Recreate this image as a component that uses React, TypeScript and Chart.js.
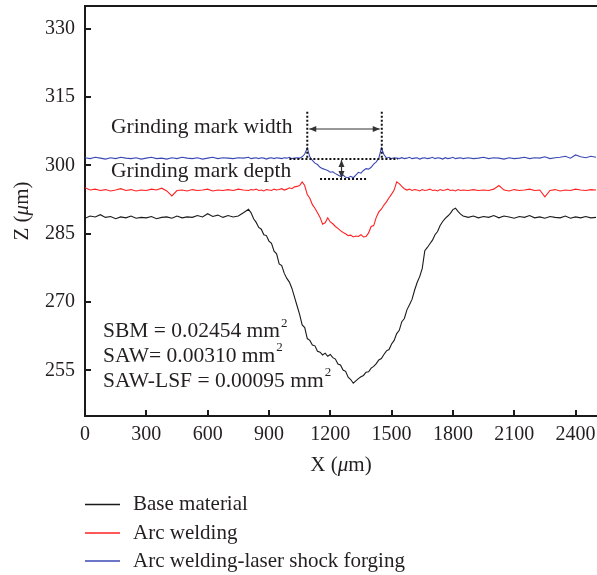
import React, { useEffect, useRef } from 'react';
import { Chart, registerables } from 'chart.js';

Chart.register(...registerables);

// X positions (µm) at which the profiles were read (finer inside the grinding marks)
const X_UM = [
  0, 25, 50, 75, 100, 125, 150, 175, 200, 225,
  250, 275, 300, 325, 350, 375, 400, 425, 450, 475,
  500, 525, 550, 575, 600, 625, 650, 675, 700, 725,
  750, 775,
  800, 812.5, 825, 837.5, 850, 862.5, 875, 887.5, 900, 912.5,
  925, 937.5, 950, 962.5, 975, 987.5, 1000, 1012.5, 1025, 1037.5,
  1050, 1062.5, 1075, 1087.5, 1100, 1112.5, 1125, 1137.5, 1150, 1162.5,
  1175, 1187.5, 1200, 1212.5, 1225, 1237.5, 1250, 1262.5, 1275, 1287.5,
  1300, 1312.5, 1325, 1337.5, 1350, 1362.5, 1375, 1387.5, 1400, 1412.5,
  1425, 1437.5, 1450, 1462.5, 1475, 1487.5, 1500, 1512.5, 1525, 1537.5,
  1550, 1562.5, 1575, 1587.5, 1600, 1612.5, 1625, 1637.5, 1650, 1662.5,
  1675, 1687.5, 1700, 1712.5, 1725, 1737.5, 1750, 1762.5, 1775, 1787.5,
  1800, 1812.5, 1825, 1837.5, 1850,
  1875, 1900, 1925, 1950, 1975, 2000, 2025, 2050, 2075, 2100,
  2125, 2150, 2175, 2200, 2225, 2250, 2275, 2300, 2325, 2350,
  2375, 2400, 2425, 2450, 2475, 2500,
];

// Z (µm) – Base material
const BASE_MATERIAL = [
  288.4, 288.9, 288.7, 289.2, 288.6, 288.8, 288.3, 288.7, 288.5, 288.9,
  288.4, 288.6, 288.5, 288.8, 288.3, 288.6, 288.7, 288.4, 288.9, 288.5,
  288.7, 288.6, 289.0, 288.7, 289.4, 288.8, 289.1, 288.6, 289.0, 288.7,
  288.9, 289.6,
  290.4, 289.6, 288.3, 287.5, 286.4, 286.0, 284.8, 284.6, 283.4, 282.9,
  281.2, 280.6, 278.4, 278.0, 276.3, 275.2, 274.4, 273.0, 271.1, 269.2,
  267.3, 265.0, 264.4, 262.0, 261.6, 260.6, 260.4, 259.2, 259.0, 258.4,
  258.8, 258.1, 258.5, 257.8, 257.5, 256.4, 256.2, 255.1, 254.8, 253.5,
  253.0, 252.2, 252.7, 253.2, 253.6, 253.9, 254.6, 254.7, 255.5, 255.9,
  256.5, 257.3, 257.6, 258.5, 259.3, 259.6, 260.8, 261.6, 263.1, 263.8,
  265.7, 266.4, 268.3, 269.4, 270.6, 272.6, 274.3, 275.6, 277.4, 281.3,
  282.0, 282.8, 283.6, 284.8, 285.5, 286.8, 287.7, 288.4, 288.9, 289.5,
  290.3, 290.6, 289.9, 289.3, 288.9,
  288.6, 288.9, 288.5, 288.8, 288.6, 289.0, 288.5, 288.9, 288.7, 288.4,
  288.8, 288.6, 289.0, 288.5, 288.7, 288.4, 288.8, 288.6, 288.5, 288.9,
  288.4, 288.7, 288.5, 288.8, 288.5, 288.6,
];

// Z (µm) – Arc welding
const ARC_WELDING = [
  295.1, 294.6, 294.8, 294.5, 294.7, 294.4, 294.6, 294.9, 294.5, 294.7,
  294.4, 294.6, 294.5, 294.8, 294.6, 295.0, 294.4, 293.3, 294.5, 294.6,
  294.4, 294.7, 294.5, 294.6, 294.8, 294.4, 294.6, 294.5, 294.7, 294.5,
  294.8, 294.6,
  294.5, 294.7, 294.6, 294.8, 294.5, 294.6, 294.4, 294.7, 294.6, 294.5,
  294.8, 294.6, 294.7, 294.9, 294.6, 294.8, 295.1, 294.9, 295.3, 295.4,
  295.6, 296.4, 295.6, 293.6, 292.8, 291.4, 290.6, 289.6, 288.6, 287.1,
  287.4, 288.5, 287.6, 287.2, 286.6, 286.2, 285.7, 285.3, 285.0, 284.6,
  284.7, 284.3, 284.5, 284.4, 284.8, 284.3, 284.4, 285.2, 286.6, 286.8,
  288.6, 289.8, 290.4, 291.3, 292.0, 292.9, 293.7, 294.6, 296.4, 296.0,
  295.4, 294.9, 294.6, 294.8, 294.5, 294.7, 294.6, 294.4, 294.7, 294.5,
  294.6, 294.8, 294.5, 294.6, 294.4, 294.7, 294.5, 294.6, 294.8, 294.5,
  294.6, 294.4, 294.7, 294.5, 294.6,
  294.5, 294.7, 294.5, 294.6, 294.5, 294.8, 295.6, 294.6, 294.4, 294.7,
  294.5, 294.6, 294.8, 294.5, 294.6, 293.1, 294.5, 294.7, 294.4, 294.6,
  294.5, 294.8, 294.6, 294.5, 294.7, 294.6,
];

// Z (µm) – Arc welding-laser shock forging
const ARC_WELDING_LSF = [
  301.7, 301.5, 301.8, 301.6, 301.4, 301.7, 301.5, 301.8, 301.6, 301.5,
  301.7, 301.4, 301.6, 301.8, 301.5, 301.6, 301.4, 301.7, 301.5, 301.8,
  301.6, 301.5, 301.7, 301.4, 301.6, 301.8, 301.5, 301.7, 301.6, 301.5,
  301.7, 301.6,
  301.8, 301.5, 301.6, 301.7, 301.5, 301.7, 301.6, 301.4, 301.6, 301.7,
  301.5, 301.7, 301.6, 301.5, 301.7, 301.6, 301.8, 301.5, 301.6, 301.7,
  301.6, 301.9, 302.5, 303.8, 301.9, 301.1, 300.5, 300.2, 299.6, 299.3,
  299.1, 298.9, 298.5, 298.6, 298.2, 297.9, 297.6, 297.9, 297.4, 297.3,
  297.6, 297.3, 297.9, 298.5, 298.3, 298.9, 299.3, 299.2, 299.6, 300.3,
  300.8, 301.6, 303.8, 302.4, 301.6, 301.8, 301.5, 301.7, 301.6, 301.5,
  301.7, 301.5, 301.6, 301.8, 301.5, 301.6, 301.7, 301.4, 301.6, 301.7,
  301.5, 301.6, 301.8, 301.5, 301.7, 301.6, 301.4, 301.7, 301.5, 301.6,
  301.8, 301.5, 301.6, 301.7, 301.5,
  301.7, 301.5, 301.6, 301.8, 301.5, 301.7, 301.6, 301.4, 301.7, 301.5,
  301.6, 301.8, 301.5, 301.7, 301.6, 301.9, 301.5, 301.7, 301.8, 302.0,
  301.6, 302.3, 301.9, 301.7, 302.0, 301.8,
];

const X_TICKS = [0, 300, 600, 900, 1200, 1500, 1800, 2100, 2400];
const Y_TICKS = [255, 270, 285, 300, 315, 330];

const SERIES_NAMES = ['Base material', 'Arc welding', 'Arc welding-laser shock forging'];
const SERIES_COLORS = ['#1a1a1a', '#ff2020', '#3a48b4'];

const AREA_LABELS = ['SBM = 0.02454 mm', 'SAW= 0.00310 mm', 'SAW-LSF = 0.00095 mm'];
const AREA_LABEL_Z = [263.5, 258.2, 252.7];

const FONT = '"Liberation Serif", "Times New Roman", serif';
const TEXT = '#231f20';

function drawParts(ctx: CanvasRenderingContext2D, parts: [string, boolean][], size: number, cx: number, cy: number) {
  let total = 0;
  const widths = parts.map(([t, it]) => {
    ctx.font = `${it ? 'italic ' : ''}${size}px ${FONT}`;
    const w = ctx.measureText(t).width;
    total += w;
    return w;
  });
  let x = cx - total / 2;
  ctx.textAlign = 'left';
  ctx.textBaseline = 'middle';
  parts.forEach(([t, it], i) => {
    ctx.font = `${it ? 'italic ' : ''}${size}px ${FONT}`;
    ctx.fillText(t, x, cy);
    x += widths[i];
  });
}

function arrowHead(ctx: CanvasRenderingContext2D, x: number, y: number, dx: number, dy: number) {
  const len = 7, hw = 3;
  ctx.beginPath();
  ctx.moveTo(x, y);
  ctx.lineTo(x - dx * len - dy * hw, y - dy * len + dx * hw);
  ctx.lineTo(x - dx * len + dy * hw, y - dy * len - dx * hw);
  ctx.closePath();
  ctx.fill();
}

const overlayPlugin = {
  id: 'overlay',
  afterDraw(chart: any) {
    const { ctx, chartArea: ca, scales } = chart;
    const xs = scales.x, ys = scales.y;
    const px = (v: number) => xs.getPixelForValue(v);
    const py = (v: number) => ys.getPixelForValue(v);
    ctx.save();

    // top frame line
    ctx.strokeStyle = '#1a1a1a';
    ctx.lineWidth = 2;
    ctx.beginPath();
    ctx.moveTo(ca.left - 1, ca.top);
    ctx.lineTo(ca.right, ca.top);
    // inward ticks
    Y_TICKS.forEach((v) => {
      const yy = Math.round(py(v));
      ctx.moveTo(ca.left, yy);
      ctx.lineTo(ca.left + 6, yy);
    });
    X_TICKS.forEach((v) => {
      if (v === 0) return;
      const xx = Math.round(px(v));
      ctx.moveTo(xx, ca.bottom);
      ctx.lineTo(xx, ca.bottom - 6);
    });
    ctx.stroke();

    // dotted guide lines
    ctx.setLineDash([2, 2]);
    ctx.lineWidth = 2;
    ctx.strokeStyle = '#111';
    ctx.beginPath();
    ctx.moveTo(px(1087.5), py(311.8));
    ctx.lineTo(px(1087.5), py(301.6));
    ctx.moveTo(px(1452), py(311.8));
    ctx.lineTo(px(1452), py(301.6));
    ctx.moveTo(px(1000), py(301.4));
    ctx.lineTo(px(1531), py(301.4));
    ctx.moveTo(px(1150), py(297.0));
    ctx.lineTo(px(1378), py(297.0));
    ctx.stroke();
    ctx.setLineDash([]);

    // arrows
    ctx.strokeStyle = '#333';
    ctx.fillStyle = '#333';
    ctx.lineWidth = 1.2;
    const ax1 = px(1087.5) + 2, ax2 = px(1452) - 2, ay = py(308.0);
    ctx.beginPath();
    ctx.moveTo(ax1, ay);
    ctx.lineTo(ax2, ay);
    ctx.stroke();
    arrowHead(ctx, ax1, ay, -1, 0);
    arrowHead(ctx, ax2, ay, 1, 0);
    const dx = px(1255), dy1 = py(301.4) + 1, dy2 = py(297.0) - 1;
    ctx.beginPath();
    ctx.moveTo(dx, dy1);
    ctx.lineTo(dx, dy2);
    ctx.stroke();
    arrowHead(ctx, dx, dy1, 0, -1);
    arrowHead(ctx, dx, dy2, 0, 1);

    // texts
    ctx.fillStyle = TEXT;
    ctx.textAlign = 'left';
    ctx.textBaseline = 'middle';
    ctx.font = `21.5px ${FONT}`;
    ctx.fillText('Grinding mark width', px(127), py(308.4));
    ctx.fillText('Grinding mark depth', px(127), py(298.6));

    AREA_LABELS.forEach((t, i) => {
      const yy = py(AREA_LABEL_Z[i]);
      const xx = px(88);
      ctx.font = `21.5px ${FONT}`;
      ctx.fillText(t, xx, yy);
      const w = ctx.measureText(t).width;
      ctx.font = `13px ${FONT}`;
      ctx.fillText('2', xx + w + 1, yy - 8);
    });

    // axis titles
    drawParts(ctx, [['X (', false], ['\u03bc', true], ['m)', false]], 21, (ca.left + ca.right) / 2, 465);
    ctx.save();
    ctx.translate(22, (ca.top + ca.bottom) / 2);
    ctx.rotate(-Math.PI / 2);
    drawParts(ctx, [['Z (', false], ['\u03bc', true], ['m)', false]], 21, 0, 0);
    ctx.restore();

    // legend
    const rows = [504.5, 533, 561];
    chart.data.datasets.forEach((ds: any, i: number) => {
      const yy = rows[i];
      ctx.strokeStyle = ds.borderColor;
      ctx.lineWidth = 1.5;
      ctx.beginPath();
      ctx.moveTo(85, yy);
      ctx.lineTo(120, yy);
      ctx.stroke();
      ctx.fillStyle = TEXT;
      ctx.font = `21px ${FONT}`;
      ctx.textAlign = 'left';
      ctx.textBaseline = 'middle';
      ctx.fillText(ds.label, 133, yy);
    });

    ctx.restore();
  },
};

export default function App() {
  const ref = useRef<HTMLCanvasElement | null>(null);

  useEffect(() => {
    if (!ref.current) return;
    const series = [BASE_MATERIAL, ARC_WELDING, ARC_WELDING_LSF];
    const chart = new Chart(ref.current, {
      type: 'line',
      data: {
        datasets: series.map((vals, i) => ({
          label: SERIES_NAMES[i],
          data: X_UM.map((x, j) => ({ x, y: vals[j] })),
          borderColor: SERIES_COLORS[i],
          borderWidth: 1.1,
          pointRadius: 0,
          tension: 0,
          fill: false,
        })),
      },
      options: {
        animation: false,
        responsive: false,
        maintainAspectRatio: false,
        layout: { padding: { top: 6, right: 0, left: 0, bottom: 0 } },
        plugins: { legend: { display: false }, tooltip: { enabled: false } },
        scales: {
          x: {
            type: 'linear',
            min: 0,
            max: 2505,
            afterBuildTicks: (s: any) => {
              s.ticks = X_TICKS.map((v) => ({ value: v }));
            },
            afterFit: (s: any) => {
              s.height = 159;
              s.paddingLeft = 0;
              s.paddingRight = 0;
              s.paddingTop = 0;
              s.paddingBottom = 0;
            },
            grid: { display: false, drawTicks: false },
            border: { display: true, color: '#1a1a1a', width: 2 },
            ticks: {
              padding: 7,
              autoSkip: false,
              maxRotation: 0,
              color: TEXT,
              font: { family: FONT, size: 20 },
              callback: (v: any) => String(v),
            },
          },
          y: {
            type: 'linear',
            min: 245,
            max: 335,
            afterBuildTicks: (s: any) => {
              s.ticks = Y_TICKS.map((v) => ({ value: v }));
            },
            afterFit: (s: any) => {
              s.width = 85;
              s.paddingLeft = 0;
              s.paddingRight = 0;
              s.paddingTop = 0;
              s.paddingBottom = 0;
            },
            grid: { display: false, drawTicks: false },
            border: { display: true, color: '#1a1a1a', width: 2 },
            ticks: {
              padding: 10,
              color: TEXT,
              font: { family: FONT, size: 20 },
              callback: (v: any) => String(v),
            },
          },
        },
      },
      plugins: [overlayPlugin],
    });
    return () => chart.destroy();
  }, []);

  return (
    <div style={{ position: 'fixed', left: 0, top: 0, width: 597, height: 575, background: '#fff', overflow: 'hidden' }}>
      <canvas ref={ref} width={597} height={575} style={{ display: 'block' }} />
    </div>
  );
}
